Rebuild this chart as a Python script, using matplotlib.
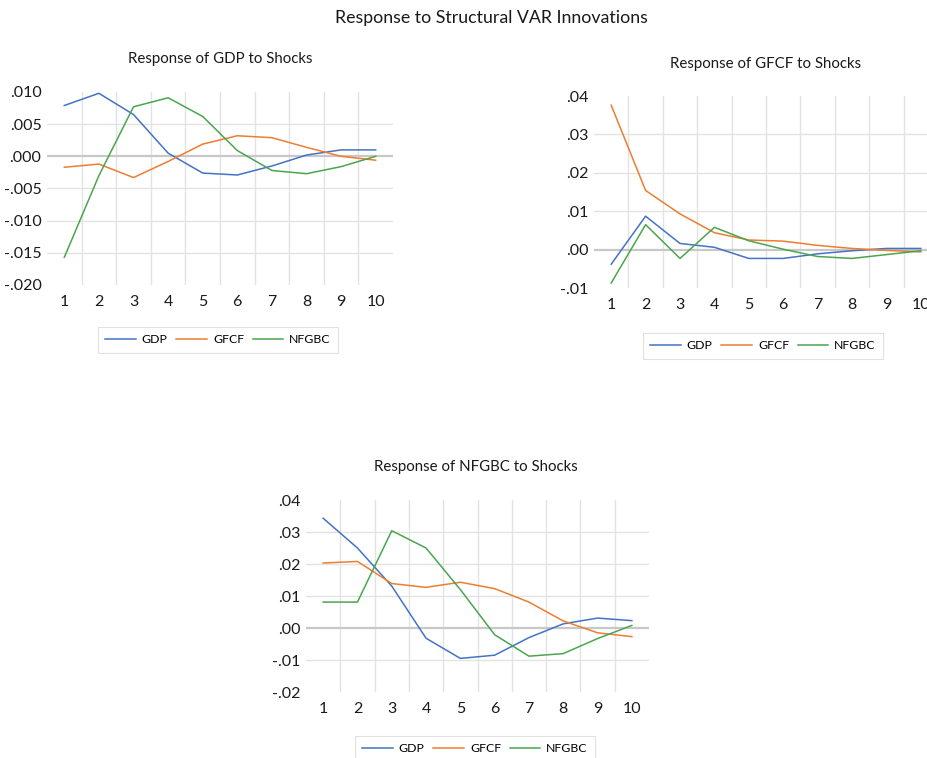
import matplotlib
matplotlib.use("Agg")
import matplotlib.pyplot as plt
from matplotlib.ticker import FuncFormatter

plt.rcParams['font.family'] = ['Lato', 'DejaVu Sans']

periods = list(range(1, 11))
series_names = ["GDP", "GFCF", "NFGBC"]
colors = ["#4472C4", "#ED7D31", "#4AA64E"]

# Response of GDP to shocks
gdp_gdp = [0.0079, 0.0098, 0.0065, 0.0005, -0.0026, -0.0029, -0.0015, 0.0002, 0.0010, 0.0010]
gdp_gfcf = [-0.0017, -0.0012, -0.0033, -0.0008, 0.0019, 0.0032, 0.0029, 0.0014, 0.0000, -0.0006]
gdp_nfgbc = [-0.0157, -0.0030, 0.0077, 0.0091, 0.0062, 0.0009, -0.0022, -0.0027, -0.0016, 0.0000]

# Response of GFCF to shocks
gfcf_gdp = [-0.0038, 0.0087, 0.0016, 0.0006, -0.0023, -0.0023, -0.0011, -0.0003, 0.0003, 0.0003]
gfcf_gfcf = [0.0376, 0.0154, 0.0093, 0.0044, 0.0025, 0.0022, 0.0011, 0.0003, -0.0002, -0.0006]
gfcf_nfgbc = [-0.0087, 0.0065, -0.0023, 0.0058, 0.0023, 0.0001, -0.0018, -0.0023, -0.0013, -0.0003]

# Response of NFGBC to shocks
nfgbc_gdp = [0.0343, 0.0250, 0.0131, -0.0032, -0.0095, -0.0085, -0.0030, 0.0013, 0.0031, 0.0023]
nfgbc_gfcf = [0.0203, 0.0208, 0.0139, 0.0127, 0.0143, 0.0123, 0.0081, 0.0022, -0.0015, -0.0027]
nfgbc_nfgbc = [0.0081, 0.0081, 0.0304, 0.0250, 0.0120, -0.0021, -0.0088, -0.0080, -0.0033, 0.0008]

titles = ["Response of GDP to Shocks", "Response of GFCF to Shocks", "Response of NFGBC to Shocks"]
yticks1 = [-0.020, -0.015, -0.010, -0.005, 0.000, 0.005, 0.010]
yticks2 = [-0.01, 0.00, 0.01, 0.02, 0.03, 0.04]
yticks3 = [-0.02, -0.01, 0.00, 0.01, 0.02, 0.03, 0.04]

W, H = 928, 758
fig = plt.figure(figsize=(W / 100, H / 100), dpi=100)

def frac(x0, y0, x1, y1):
    return [x0 / W, 1 - y1 / H, (x1 - x0) / W, (y1 - y0) / H]

panels = [
    dict(rect=frac(47, 92, 393, 285), data=[gdp_gdp, gdp_gfcf, gdp_nfgbc], yt=yticks1, dec=3,
         title_xy=(220, 59), leg_xy=(218, 327)),
    dict(rect=frac(594, 96, 938, 288), data=[gfcf_gdp, gfcf_gfcf, gfcf_nfgbc], yt=yticks2, dec=2,
         title_xy=(766, 64), leg_xy=(763, 333)),
    dict(rect=frac(306, 500, 649, 692), data=[nfgbc_gdp, nfgbc_gfcf, nfgbc_nfgbc], yt=yticks3, dec=2,
         title_xy=(476, 467), leg_xy=(475, 736)),
]

grid_c = "#E3E3E3"
for p, title in zip(panels, titles):
    ax = fig.add_axes(p["rect"])
    yt = p["yt"]
    ax.set_xlim(0.5, 10.5)
    ax.set_ylim(yt[0], yt[-1])
    for v in yt[1:-1]:
        if abs(v) < 1e-12:
            continue
        ax.axhline(v, color=grid_c, lw=1.0, zorder=0)
    for xv in [i + 0.5 for i in range(1, 10)]:
        ax.axvline(xv, color=grid_c, lw=1.0, zorder=0)
    ax.axhline(0, color="#C8C8C8", lw=1.6, zorder=1)
    lines = []
    for vals, name, c in zip(p["data"], series_names, colors):
        ln, = ax.plot(periods, vals, color=c, lw=1.1, label=name, zorder=3)
        lines.append(ln)
    ax.set_xticks(periods)
    ax.set_xticklabels([str(i) for i in periods])
    ax.set_yticks(yt)
    dec = p["dec"]
    ax.yaxis.set_major_formatter(FuncFormatter(
        lambda v, pos, d=dec: f"{v:.{d}f}".replace("0.", ".", 1)))
    ax.tick_params(length=0, labelsize=11.5, colors="#1a1a1a")
    ax.tick_params(axis='y', pad=4)
    ax.tick_params(axis='x', pad=7)
    for s in ax.spines.values():
        s.set_visible(False)
    tx, ty = p["title_xy"]
    fig.text(tx / W, 1 - ty / H, title, ha="center", va="center", fontsize=10.8, color="#1a1a1a")
    lx, ly = p["leg_xy"]
    leg = fig.legend(handles=lines, loc="upper center", bbox_to_anchor=(lx / W, 1 - ly / H),
                     ncol=3, frameon=True, fontsize=8.8, handlelength=2.5, columnspacing=0.7,
                     handletextpad=0.5, borderpad=0.6, fancybox=False, borderaxespad=0)
    leg.get_frame().set_edgecolor("#D9D9D9")
    leg.get_frame().set_linewidth(0.8)

fig.text(491 / W, 1 - 18 / H, "Response to Structural VAR Innovations", ha="center", va="center",
         fontsize=12.8, color="#1a1a1a")

fig.savefig("out.png", dpi=100)
